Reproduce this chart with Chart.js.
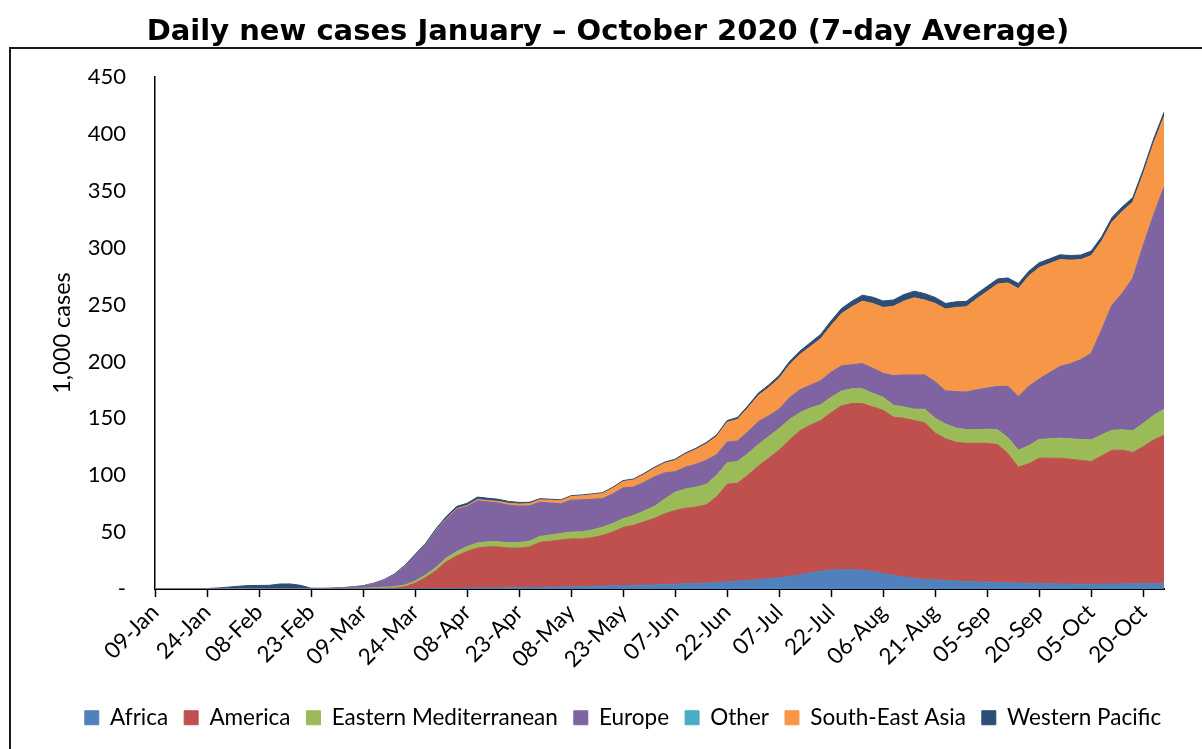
<!DOCTYPE html>
<html>
<head>
<meta charset="utf-8">
<script src="https://cdn.jsdelivr.net/npm/chart.js@4.4.0/dist/chart.umd.min.js"></script>
<style>
    html, body { margin: 0; padding: 0; background: #fff; overflow: hidden; }
    #wrap { position: relative; width: 1202px; height: 749px; }
    #frame { position: absolute; left: 9px; top: 47px; width: 1200px; height: 720px; border: 2px solid #1a1a1a; pointer-events: none; }
</style>
</head>
<body>
<div id="wrap">
    <canvas id="casesChart"></canvas>
    <div id="frame"></div>
</div>
<script>
// dates every 3 days, 09-Jan .. 26-Oct 2020
const dates = ['09-Jan','12-Jan','15-Jan','18-Jan','21-Jan','24-Jan','27-Jan','30-Jan',
    '02-Feb','05-Feb','08-Feb','11-Feb','14-Feb','17-Feb','20-Feb','23-Feb','26-Feb','29-Feb',
    '03-Mar','06-Mar','09-Mar','12-Mar','15-Mar','18-Mar','21-Mar','24-Mar','27-Mar','30-Mar',
    '02-Apr','05-Apr','08-Apr','11-Apr','14-Apr','17-Apr','20-Apr','23-Apr','26-Apr','29-Apr',
    '02-May','05-May','08-May','11-May','14-May','17-May','20-May','23-May','26-May','29-May',
    '01-Jun','04-Jun','07-Jun','10-Jun','13-Jun','16-Jun','19-Jun','22-Jun','25-Jun','28-Jun',
    '01-Jul','04-Jul','07-Jul','10-Jul','13-Jul','16-Jul','19-Jul','22-Jul','25-Jul','28-Jul','31-Jul',
    '03-Aug','06-Aug','09-Aug','12-Aug','15-Aug','18-Aug','21-Aug','24-Aug','27-Aug','30-Aug',
    '02-Sep','05-Sep','08-Sep','11-Sep','14-Sep','17-Sep','20-Sep','23-Sep','26-Sep','29-Sep',
    '02-Oct','05-Oct','08-Oct','11-Oct','14-Oct','17-Oct','20-Oct','23-Oct','26-Oct'];

// 1,000 cases, 7-day average
const africa = [0,0,0,0,0,0,0,0,0,0,
    0,0,0,0,0,0,0,0,0,0,
    0,0.02,0.05,0.08,0.12,0.2,0.3,0.4,0.5,0.6,
    0.7,0.8,0.8,0.9,1,1.1,1.2,1.3,1.5,1.7,
    1.9,2.1,2.3,2.5,2.8,3,3.2,3.4,3.6,3.9,
    4.2,4.6,4.9,5.3,5.8,6.3,7,7.6,8.2,9,
    9.8,11,12.5,14,15.5,16.5,17,17,16.5,15.5,
    13.5,12,10.5,9.2,8.5,8,7.5,7,6.5,6.2,
    6,5.8,5.5,5.2,5,4.8,4.6,4.5,4.3,4.2,
    4.2,4.3,4.4,4.5,4.6,4.7,4.8,5];
const america = [0,0,0,0,0,0,0,0,0,0,
    0,0,0,0,0,0,0,0,0.02,0.04,
    0.05,0.15,0.4,0.7,1.8,4.8,9.7,15.6,23.5,28.4,
    32.3,35.2,36.2,36.1,35,34.9,35.8,39.7,40.5,41.3,
    42.1,41.9,42.7,44.5,47.2,51,52.8,55.6,58.4,62.1,
    64.8,66.4,67.1,68.7,75.2,85.7,86,92.4,99.8,106,
    112.2,120,126.5,130,132.5,138.5,144,146,146.5,144.5,
    143.5,139,139.5,138.8,137.5,129,124.5,122,121.5,121.8,
    122,121.2,113.5,101.8,105,110.2,110.4,110.5,109.7,108.8,
    107.8,112.7,117.6,117.5,115.4,120.3,126.2,130];
const eastMed = [0,0,0,0,0,0,0,0,0,0,
    0,0,0,0,0,0,0.05,0.15,0.3,0.5,
    0.7,0.9,1.1,1.3,1.5,1.9,2.3,2.8,3.3,3.8,
    4.3,4.5,4.5,4.5,4.6,4.8,5,5.2,5.5,5.8,
    6,6.3,6.8,7.3,7.5,7.8,8.5,9.5,10.5,13,
    16,17,17.5,18,19,19,19,19,19,19,
    19,18,16,15,14,13.5,13,13,13,12,
    11.5,10.5,10,10,12,13,13,12.5,12,12,
    12.5,13,14,15,16,16.5,17,17.5,18,18.5,
    19,18.5,17.5,18,19,20.5,21.5,23];
const europe = [0,0,0,0,0,0,0,0,0,0,
    0,0,0,0,0,0,0.1,0.2,0.5,1,
    1.8,3.5,6,10,16,22,26,32,34,37,
    35,37,35,34,33,32,31,30,28,26,
    28,28,27,25,26,27,25,25,26,23,
    18,19,20,21,18,18,18,19,20,18,
    17,19,20,20,21,22,22,21,22,22,
    21,26,28,30,30,32,29,32,33,35,
    36,38,45,47,52,53,58,63,66,70,
    76,92,110,120,134,156,176,195];
const other = [0,0,0,0,0,0,0,0,0,0,
    0.02,0.05,0.07,0.05,0.02,0,0,0,0,0,
    0,0,0,0,0,0,0,0,0,0,
    0,0,0,0,0,0,0,0,0,0,
    0,0,0,0,0,0,0,0,0,0,
    0,0,0,0,0,0,0,0,0,0,
    0,0,0,0,0,0,0,0,0,0,
    0,0,0,0,0,0,0,0,0,0,
    0,0,0,0,0,0,0,0,0,0,
    0,0,0,0,0,0,0,0];
const seAsia = [0,0,0,0,0,0,0,0,0,0,
    0,0,0,0,0,0,0,0,0,0,
    0.01,0.02,0.05,0.1,0.15,0.2,0.3,0.5,0.6,0.8,
    1,1.2,1.3,1.5,1.7,1.8,2,2.2,2.5,2.8,
    3.2,3.6,4,4.5,5,5.6,6.3,7,7.5,8.5,
    10,11.5,13,14.5,16,17.5,19,21,23,25,
    27,29,31,34,37,41,46,51,55,57,
    58,61,65,68,66,69,72,74,75,80,
    85,90,91,95,97,98,96,94,91,88,
    86,78,73,72,67,63,63,62];
const westPac = [0,0,0,0.05,0.1,0.4,0.9,1.6,2.4,3,
    3.1,3.2,4.3,4.4,3.2,0.7,0.5,0.5,0.4,0.4,
    0.4,0.5,0.6,0.8,1,1.2,1.3,1.5,1.8,2,
    2,2.1,2,1.9,1.7,1.5,1.2,1,0.9,0.8,
    0.8,0.8,0.8,0.8,0.9,0.9,0.9,1,1,1,
    1.1,1.1,1.2,1.3,1.5,1.6,1.8,2,2.2,2.4,
    2.6,2.9,3.2,3.5,3.9,4.2,4.6,5,5.2,5.5,
    5.6,5.6,5.8,5.8,5.6,5.3,5,4.9,4.8,4.6,
    4.5,4.5,4.4,4.4,4.3,4.3,4.2,4.2,4.1,4,
    4,4,4,4,4,4,4,4];

const regionNames = ['Africa', 'America', 'Eastern Mediterranean', 'Europe', 'Other', 'South-East Asia', 'Western Pacific'];
const regionData = [africa, america, eastMed, europe, other, seAsia, westPac];
const regionColors = ['#4F81BD', '#C0504D', '#9BBB59', '#8064A2', '#4BACC6', '#F79646', '#2C4D75'];

const yTicks = [0, 50, 100, 150, 200, 250, 300, 350, 400, 450];
const tickEvery = 5; // every 15 days

const baseFont = 'Lato';

const datasets = regionNames.map((name, i) => ({
    label: name,
    data: regionData[i],
    backgroundColor: regionColors[i],
    borderColor: regionColors[i],
    borderWidth: 1,
    pointRadius: 0,
    tension: 0,
    fill: i === 0 ? 'origin' : '-1'
}));

// nudge title and legend a bit to the right, like the original
const boxShift = {
    id: 'boxShift',
    afterLayout(chart) {
        if (chart.legend) {
            chart.legend.left += 26;
            chart.legend.right += 26;
        }
        if (chart.titleBlock) {
            chart.titleBlock.left += 11;
            chart.titleBlock.right += 11;
        }
    }
};

const ctx = document.getElementById('casesChart').getContext('2d');
const casesChart = new Chart(ctx, {
    type: 'line',
    data: { labels: dates, datasets: datasets },
    plugins: [boxShift],
    options: {
        responsive: true,
        maintainAspectRatio: false,
        animation: false,
        layout: { padding: { left: 30, right: 38, top: 0, bottom: 10 } },
        plugins: {
            title: {
                display: true,
                text: 'Daily new cases January \u2013 October 2020 (7-day Average)',
                color: '#000',
                font: { family: 'DejaVu Sans', size: 29, weight: 'bold' },
                padding: { top: 15, bottom: 27.2 }
            },
            legend: {
                position: 'bottom',
                labels: {
                    color: '#000',
                    font: { family: baseFont, size: 22.5 },
                    boxWidth: 14,
                    boxHeight: 14,
                    padding: 16
                }
            },
            tooltip: { enabled: false }
        },
        scales: {
            x: {
                z: 1,
                grid: { display: true, drawOnChartArea: false, drawTicks: true, tickLength: 8, tickWidth: 1.5, tickColor: '#000' },
                border: { display: true, color: '#000', width: 2 },
                ticks: {
                    autoSkip: false,
                    maxRotation: 45,
                    minRotation: 45,
                    padding: 2,
                    color: '#000',
                    font: { family: baseFont, size: 22.5 }
                },
                afterBuildTicks: scale => {
                    scale.ticks = scale.ticks.filter(t => t.value % tickEvery === 0);
                },
                afterFit: scale => { scale.height = 101.5; }
            },
            y: {
                stacked: true,
                min: 0,
                max: 450,
                grid: { display: false, drawTicks: false },
                border: { display: true, color: '#000', width: 1.5 },
                afterBuildTicks: scale => {
                    scale.ticks = yTicks.map(v => ({ value: v }));
                },
                ticks: {
                    padding: 29,
                    color: '#000',
                    font: { family: baseFont, size: 22 },
                    callback: v => v === 0 ? '-' : v
                },
                title: {
                    display: true,
                    text: '1,000 cases',
                    color: '#000',
                    font: { family: baseFont, size: 23.5 },
                    padding: { top: 18, bottom: 0 }
                },
                afterFit: scale => { scale.width = 125; }
            }
        }
    }
});
</script>
</body>
</html>
